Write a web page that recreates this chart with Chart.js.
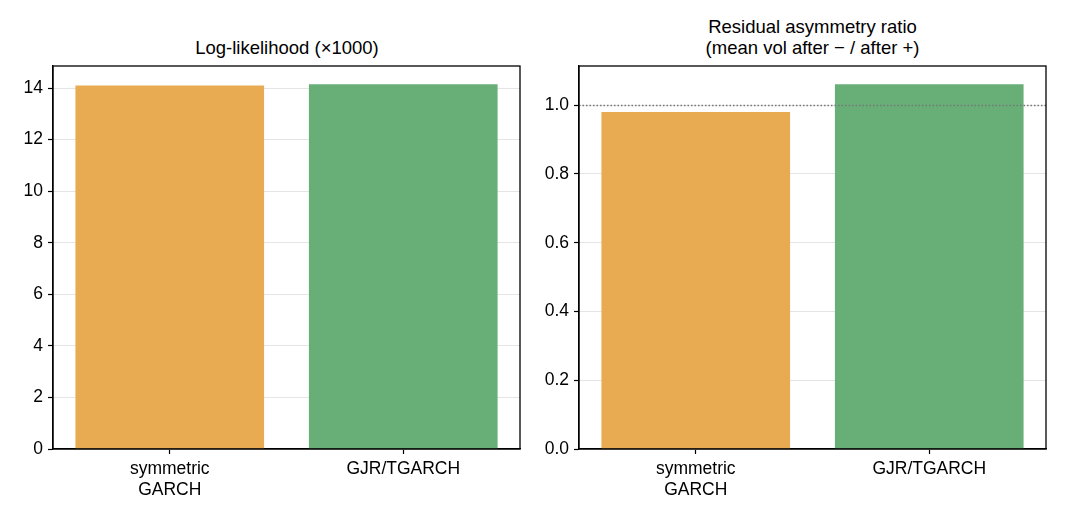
<!DOCTYPE html>
<html>
<head>
<meta charset="utf-8">
<script src="https://cdn.jsdelivr.net/npm/chart.js@4"></script>
<style>
  body { margin: 0; background: #fff; width: 1066px; height: 520px; position: relative; overflow: hidden; font-family: "Liberation Sans", Arial, sans-serif; }
  .panel { position: absolute; top: 0; height: 520px; }
  .title { position: absolute; text-align: center; font-size: 18.5px; line-height: 21px; color: #000; }
</style>
</head>
<body>
<div class="title" style="left:53px;width:468px;top:37px;">Log-likelihood (×1000)</div>
<div class="title" style="left:579px;width:467px;top:16px;">Residual asymmetry ratio<br>(mean vol after − / after +)</div>
<div class="panel" style="left:0;width:540px;"><canvas id="llChart"></canvas></div>
<div class="panel" style="left:540px;width:526px;"><canvas id="ratioChart"></canvas></div>
<script>
// model names and results
const models = [['symmetric', 'GARCH'], 'GJR/TGARCH'];
const logLik = [14.10, 14.15];          // log-likelihood / 1000
const asymRatio = [0.980, 1.061];       // mean vol after negative / after positive
const barColors = ['#E8AB52', '#67AF77'];
const refLine = 1.0;

const font = { family: '"Liberation Sans", Arial, sans-serif', size: 17.5 };

// draw the box around the plot area plus an optional dotted reference line
const framePlugin = {
  id: 'frame',
  afterDraw(chart, args, opts) {
    const { ctx, chartArea: a, scales } = chart;
    ctx.save();
    if (opts.ref !== undefined) {
      const y = Math.round(scales.y.getPixelForValue(opts.ref)) + 0.5;
      ctx.strokeStyle = '#777777';
      ctx.lineWidth = 1.3;
      ctx.setLineDash([1.5, 2]);
      ctx.beginPath();
      ctx.moveTo(a.left, y);
      ctx.lineTo(a.right, y);
      ctx.stroke();
      ctx.setLineDash([]);
    }
    ctx.strokeStyle = '#000';
    ctx.lineWidth = 1.3;
    ctx.strokeRect(a.left, a.top, a.right - a.left, a.bottom - a.top);
    ctx.restore();
  }
};

function makeChart(id, values, yMax, step, decimals, leftW, ref) {
  return new Chart(document.getElementById(id), {
    type: 'bar',
    data: {
      labels: models,
      datasets: [{
        data: values,
        backgroundColor: barColors,
        borderWidth: 0,
        barPercentage: 0.808,
        categoryPercentage: 1.0
      }]
    },
    options: {
      responsive: true,
      maintainAspectRatio: false,
      animation: false,
      layout: { padding: { left: 0, right: 20, top: 66, bottom: 0 } },
      plugins: {
        legend: { display: false },
        tooltip: { enabled: false },
        frame: { ref: ref }
      },
      scales: {
        x: {
          grid: { drawOnChartArea: false, offset: false, tickLength: 5, tickColor: '#000', tickWidth: 1.2 },
          border: { color: '#000', width: 1.3 },
          ticks: { color: '#000', font: font, padding: 5, maxRotation: 0 },
          afterFit(s) { s.height = 71; }
        },
        y: {
          min: 0,
          max: yMax,
          grid: { color: '#dddddd', lineWidth: 0.8, tickLength: 5, tickColor: '#000', tickWidth: 1.2 },
          border: { color: '#000', width: 1.3 },
          ticks: {
            stepSize: step,
            includeBounds: false,
            color: '#000',
            font: font,
            padding: 5,
            callback: v => v.toFixed(decimals)
          },
          afterFit(s) { s.width = leftW; }
        }
      }
    },
    plugins: [framePlugin]
  });
}

makeChart('llChart', logLik, Math.max(...logLik) * 1.05, 2, 0, 53);
makeChart('ratioChart', asymRatio, Math.max(...asymRatio) * 1.05, 0.2, 1, 39, refLine);
</script>
</body>
</html>
